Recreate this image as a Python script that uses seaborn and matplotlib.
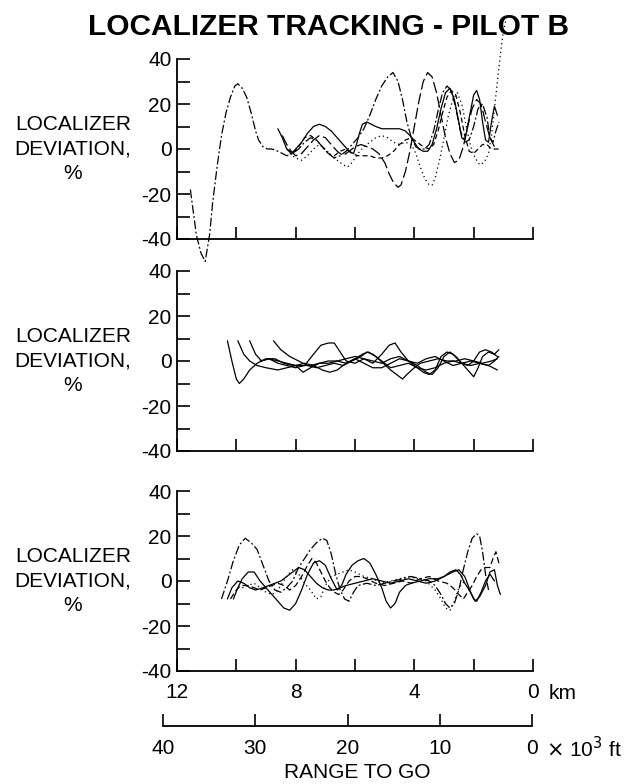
import numpy as np
import pandas as pd
import seaborn as sns
import matplotlib
matplotlib.use("Agg")
import matplotlib.pyplot as plt
from matplotlib.ticker import MultipleLocator

# Values: range to go (km) vs localizer deviation (%)

# ---- top panel
top_a_km = [11.55, 11.45, 11.35, 11.2, 11.05, 10.9, 10.8, 10.65, 10.5, 10.35, 10.2, 10.05, 9.95, 9.8,
            9.65, 9.5, 9.35, 9.25, 9.1, 8.95, 8.8, 8.6, 8.45, 8.3, 8.1, 7.9, 7.7, 7.5, 7.3, 7.1, 6.9,
            6.7, 6.5, 6.3, 6.1, 5.9, 5.7, 5.5, 5.3, 5.1, 4.9, 4.72, 4.55, 4.4, 4.25, 4.1, 3.95, 3.8,
            3.65, 3.5, 3.35, 3.2, 3.05, 2.9, 2.75, 2.6, 2.45, 2.3, 2.15, 2.0, 1.85, 1.7, 1.55, 1.45,
            1.35, 1.25, 1.15]
top_a_dev = [-18, -28, -38, -46, -50, -38, -24, -8, 6, 16, 23, 28, 29, 27,
             23, 16, 8, 4, 1, 0, 0, -1, -2, -3, -2, 0, 3, 5, 4, 1, -2,
             -4, -3, -1, 2, 5, 9, 15, 22, 28, 32, 34, 30, 22, 12, 5, 1, 0,
             0, 2, 8, 17, 25, 28, 26, 18, 8, 3, 4, 10, 18, 20, 14, 5,
             3, 8, 12]

top_b_km = [8.45, 8.3, 8.15, 8.0, 7.8, 7.6, 7.4, 7.2, 7.0, 6.8, 6.6, 6.4, 6.2, 6.0, 5.8, 5.6, 5.4,
            5.2, 5.0, 4.85, 4.7, 4.55, 4.45, 4.3, 4.15, 4.0, 3.85, 3.7, 3.55, 3.4, 3.25, 3.1, 2.95,
            2.8, 2.65, 2.5, 2.35, 2.2, 2.05, 1.9, 1.75, 1.6, 1.45, 1.3]
top_b_dev = [6, 2, -1, -3, -2, 1, 4, 6, 5, 2, -1, -3, -1, 1, 2, 1, 0,
             -2, -6, -11, -15, -17, -16, -10, -1, 10, 21, 30, 34, 32, 25, 15, 5,
             -2, -6, -5, 1, 10, 18, 22, 20, 12, 5, 1]

top_c_km = [8.2, 8.0, 7.8, 7.6, 7.4, 7.2, 7.0, 6.8, 6.6, 6.4, 6.25, 6.1, 5.9, 5.7, 5.5, 5.3, 5.1,
            4.9, 4.7, 4.5, 4.3, 4.1, 3.95, 3.8, 3.65, 3.5, 3.4, 3.3, 3.15, 3.0, 2.85, 2.7, 2.55,
            2.4, 2.25, 2.1, 1.95, 1.8, 1.65, 1.5, 1.4, 1.3, 1.2, 1.1, 1.0, 0.92]
top_c_dev = [-2, -4, -5, -3, 0, 2, 0, -3, -5, -7, -8, -6, -2, 1, 3, 5, 6,
             5, 3, 2, 3, 2, -2, -8, -13, -16, -16, -13, -5, 5, 15, 22, 25,
             20, 10, 1, -4, -7, -6, -2, 6, 18, 30, 42, 52, 57]

top_d_km = [8.6, 8.45, 8.3, 8.15, 8.0, 7.8, 7.6, 7.4, 7.2, 7.0, 6.8, 6.6, 6.4, 6.2, 6.05, 5.95,
            5.85, 5.75, 5.6, 5.45, 5.3, 5.1, 4.9, 4.7, 4.5, 4.3, 4.15, 4.0, 3.85, 3.7, 3.55, 3.4,
            3.25, 3.1, 2.95, 2.8, 2.65, 2.5, 2.4, 2.3, 2.15, 2.0, 1.9, 1.8, 1.7, 1.6, 1.5, 1.4,
            1.3, 1.2]
top_d_dev = [9, 5, 0, -2, 0, 3, 7, 10, 11, 10, 8, 5, 2, -1, -2, 2,
             7, 11, 12, 11, 10, 9, 9, 9, 9, 8, 6, 3, 0, -1, -1, 2,
             9, 18, 25, 27, 22, 12, 5, 4, 14, 24, 26, 22, 12, 4, 3, 12,
             19, 15]

top_e_km = [8.3, 8.1, 7.9, 7.7, 7.5, 7.3, 7.1, 6.9, 6.7, 6.5, 6.3, 6.1, 5.9, 5.7, 5.5, 5.3, 5.1,
            4.9, 4.7, 4.5, 4.3, 4.1, 3.9, 3.7, 3.5, 3.35, 3.2, 3.05, 2.9, 2.75, 2.6, 2.45, 2.3,
            2.15, 2.0, 1.85, 1.7, 1.55, 1.4, 1.25, 1.15]
top_e_dev = [0, -2, 1, 5, 6, 4, 1, -2, -3, -1, 0, -2, -3, -3, -3, -4, -4,
             -3, -1, 2, 4, 5, 3, 1, 0, 2, 8, 16, 23, 26, 24, 16, 6,
             -1, -2, 0, 2, 2, 0, 0, 0]

# ---- middle panel
mid_a_km = [10.3, 10.15, 10.0, 9.9, 9.75, 9.55, 9.3, 9.0, 8.7, 8.4, 8.1, 7.8, 7.5, 7.2, 6.9, 6.6,
            6.3, 6.0, 5.7, 5.4, 5.1, 4.8, 4.5, 4.2, 3.9, 3.6, 3.3, 3.0, 2.7, 2.4, 2.1, 1.8, 1.5, 1.2]
mid_a_dev = [9, 0, -8, -10, -8, -4, -1, 1, 1, -1, -2, -2, -2, -1, -1, 0,
             1, 2, 1, 0, -1, 1, 2, 0, -3, -4, -3, -1, 0, -1, -2, -1, -2, -4]

mid_b_km = [9.95, 9.75, 9.55, 9.3, 9.0, 8.6, 8.3, 8.0, 7.7, 7.4, 7.1, 6.85, 6.6, 6.3, 6.0, 5.75,
            5.55, 5.3, 5.05, 4.8, 4.6, 4.4, 4.25, 4.0, 3.8, 3.5, 3.2, 2.9, 2.6, 2.3, 2.0, 1.7, 1.4, 1.2]
mid_b_dev = [9, 3, 0, -2, -3, -4, -3, -2, -1, -2, -4, -5, -4, -1, 1, 3,
             4, 2, -1, -4, -6, -8, -6, -3, -1, 0, 1, 0, 0, 1, 0, -1, 0, 1]

mid_c_km = [9.55, 9.35, 9.15, 8.9, 8.6, 8.3, 8.0, 7.7, 7.4, 7.15, 6.9, 6.7, 6.5, 6.3, 6.0, 5.7,
            5.4, 5.1, 4.85, 4.65, 4.45, 4.2, 3.9, 3.6, 3.4, 3.2, 3.0, 2.8, 2.6, 2.4, 2.2, 2.0,
            1.85, 1.7, 1.5, 1.3, 1.15]
mid_c_dev = [9, 3, 0, 1, -1, -2, -3, -2, 3, 7, 8, 8, 4, 0, -1, 1,
             -1, 3, 7, 8, 4, 0, -2, -5, -6, -3, 2, 4, 2, -1, -4, -7,
             -3, 2, 4, 3, 5]

mid_d_km = [8.75, 8.5, 8.2, 7.9, 7.6, 7.3, 7.0, 6.7, 6.4, 6.1, 5.8, 5.6, 5.4, 5.1, 4.8, 4.5,
            4.2, 3.9, 3.7, 3.5, 3.3, 3.1, 2.9, 2.7, 2.4, 2.2, 2.0, 1.8, 1.6, 1.4, 1.2]
mid_d_dev = [9, 5, 2, 0, -2, -3, -2, -1, -2, 0, 2, 4, 3, 0, -3, -2,
             -1, -3, -5, -6, -4, 2, 4, 3, -1, -2, 0, 4, 5, 4, 2]

mid_e_km = [9.2, 8.9, 8.6, 8.3, 8.0, 7.75, 7.5, 7.2, 6.9, 6.6, 6.3, 6.0, 5.7, 5.4, 5.1, 4.8,
            4.5, 4.2, 3.9, 3.6, 3.3, 3.0, 2.7, 2.4, 2.1, 1.8, 1.5, 1.3, 1.15]
mid_e_dev = [0, 1, 0, -1, -2, -5, -3, -1, 0, 0, -1, 1, -1, -3, -3, -1,
             1, 0, -1, 1, 2, 0, -2, -1, 0, -1, -2, 0, 2]

# ---- bottom panel
bot_a_km = [10.5, 10.3, 10.1, 9.9, 9.7, 9.5, 9.3, 9.1, 8.9, 8.7, 8.5, 8.3, 8.1, 7.9, 7.7, 7.5,
            7.3, 7.1, 6.95, 6.8, 6.65, 6.5, 6.35, 6.2, 6.05, 5.9, 5.6, 5.3, 5.0, 4.7, 4.4, 4.1,
            3.8, 3.5, 3.3, 3.1, 2.95, 2.8, 2.65, 2.5, 2.35, 2.2, 2.05, 1.9, 1.8, 1.7, 1.6, 1.5]
bot_a_dev = [-8, 0, 9, 16, 19, 17, 14, 7, 0, -4, -5, -3, 0, 6, 10, 14,
             17, 19, 18, 12, 3, -4, -8, -9, -5, -2, -1, -2, -1, 0, 1, 2,
             1, 0, -2, -6, -10, -12, -10, -4, 5, 13, 19, 21, 20, 13, 3, -4]

bot_b_km = [10.3, 10.15, 9.95, 9.75, 9.55, 9.35, 9.1, 8.9, 8.7, 8.5, 8.3, 8.1, 7.9, 7.7, 7.5, 7.3,
            7.1, 6.9, 6.7, 6.5, 6.3, 6.0, 5.7, 5.4, 5.1, 4.8, 4.5, 4.2, 3.9, 3.6, 3.3, 3.0, 2.7,
            2.5, 2.3, 2.1, 1.95, 1.8, 1.6, 1.45, 1.3, 1.2, 1.1]
bot_b_dev = [-8, -3, 0, -1, -3, -4, -3, -2, -1, 0, 2, 4, 6, 5, 2, -1,
             -3, -4, -4, -3, -2, -1, 0, 1, 0, -1, 0, 1, 0, -1, 0, 2, 4,
             5, 2, -5, -9, -7, -2, 4, 5, -2, -6]

bot_c_km = [10.1, 9.95, 9.8, 9.6, 9.4, 9.2, 9.0, 8.8, 8.6, 8.4, 8.2, 8.0, 7.8, 7.6, 7.4, 7.2,
            7.0, 6.8, 6.6, 6.45, 6.3, 6.1, 5.9, 5.7, 5.5, 5.3, 5.1, 4.95, 4.8, 4.65, 4.5, 4.3,
            4.1, 3.8, 3.5, 3.2, 3.0, 2.8, 2.6, 2.45, 2.3, 2.15, 2.0, 1.9, 1.75, 1.6, 1.45, 1.3]
bot_c_dev = [-8, -3, 1, 4, 4, 0, -3, -6, -9, -12, -13, -10, -4, 3, 8, 9,
             7, 1, -4, -2, 3, 7, 9, 10, 8, 3, -3, -9, -12, -10, -5, -2,
             -1, 0, 1, 1, 2, 4, 5, 3, -1, -4, -8, -9, -5, 0, 3, 0]

bot_d_km = [10.2, 10.0, 9.85, 9.6, 9.4, 9.2, 9.0, 8.8, 8.6, 8.4, 8.2, 8.0, 7.8, 7.6, 7.45, 7.3,
            7.15, 7.0, 6.85, 6.7, 6.55, 6.4, 6.2, 6.0, 5.8, 5.6, 5.3, 5.0, 4.7, 4.4, 4.1, 3.8,
            3.5, 3.2, 2.9, 2.7, 2.5, 2.35, 2.2, 2.05, 1.9, 1.75, 1.6, 1.45, 1.35, 1.25, 1.15]
bot_d_dev = [-8, -4, -2, -2, -3, -4, -3, -2, -1, -2, -4, -2, 2, 7, 10, 8,
             4, 0, -3, -5, -6, -4, 0, 2, 2, 1, -1, -2, -1, 0, -1, 1,
             2, 0, -1, -3, -6, -8, -5, -2, 2, 5, 6, 6, 10, 13, 8]

bot_e_km = [9.8, 9.6, 9.4, 9.2, 9.0, 8.8, 8.6, 8.4, 8.25, 8.1, 7.9, 7.7, 7.5, 7.3, 7.15, 7.0,
            6.8, 6.6, 6.4, 6.2, 6.0, 5.7, 5.4, 5.1, 4.8, 4.5, 4.2, 3.9, 3.6, 3.3, 3.1, 2.95,
            2.8, 2.65, 2.5, 2.3]
bot_e_dev = [-3, -2, -1, -3, -5, -6, -4, 0, 3, 5, 3, -1, -4, -8, -7, -2,
             2, 3, 4, 5, 4, 2, 1, -1, 0, 1, 2, 1, 0, -4, -8, -12,
             -13, -9, -3, 0]

top_runs = {"a": (top_a_km, top_a_dev), "b": (top_b_km, top_b_dev), "c": (top_c_km, top_c_dev),
            "d": (top_d_km, top_d_dev), "e": (top_e_km, top_e_dev)}
mid_runs = {"a": (mid_a_km, mid_a_dev), "b": (mid_b_km, mid_b_dev), "c": (mid_c_km, mid_c_dev),
            "d": (mid_d_km, mid_d_dev), "e": (mid_e_km, mid_e_dev)}
bot_runs = {"a": (bot_a_km, bot_a_dev), "b": (bot_b_km, bot_b_dev), "c": (bot_c_km, bot_c_dev),
            "d": (bot_d_km, bot_d_dev), "e": (bot_e_km, bot_e_dev)}

km_ticks = [12, 10, 8, 6, 4, 2, 0]
km_labels = ["12", "", "8", "", "4", "", "0"]
ft_ticks = [40, 30, 20, 10, 0]
ft_labels = ["40", "30", "20", "10", "0"]
dev_ticks = [-40, -20, 0, 20, 40]

title = "LOCALIZER TRACKING - PILOT B"
ylab = "LOCALIZER\nDEVIATION,\n%"


def frame(runs):
    parts = [pd.DataFrame({"km": km, "dev": dev, "run": name}) for name, (km, dev) in runs.items()]
    return pd.concat(parts, ignore_index=True)


sns.set_style("ticks")
plt.rcParams["font.family"] = ["Liberation Sans", "DejaVu Sans"]
plt.rcParams["axes.unicode_minus"] = False
for k in ["text.color", "axes.labelcolor", "xtick.color", "ytick.color", "axes.edgecolor"]:
    plt.rcParams[k] = "black"
fs = 15

fig = plt.figure(figsize=(6.29, 7.84), dpi=100)
W, H = 629, 784
left, right = 177, 533
panel_px = [(59, 239), (271, 451), (491, 671)]  # top / bottom pixel rows of each panel

dash_sets = {
    "top": [(7, 2, 1.5, 2), (9, 3), (1, 2.5), "", (4, 2.5)],
    "mid": ["", "", "", "", ""],
    "bot": [(7, 2, 1.5, 2), "", "", (5, 2.5), (1, 2.5)],
}

axes = []
for (ytop, ybot), runs, key in zip(panel_px, [top_runs, mid_runs, bot_runs], ["top", "mid", "bot"]):
    ax = fig.add_axes([left / W, 1 - ybot / H, (right - left) / W, (ybot - ytop) / H])
    sns.lineplot(data=frame(runs), x="km", y="dev", style="run", dashes=dash_sets[key],
                 color="black", lw=0.9, sort=False, estimator=None, legend=False, ax=ax)
    ax.set_xlim(12, 0)
    ax.set_ylim(-40, 40)
    ax.set_xticks(km_ticks)
    ax.set_yticks(dev_ticks)
    ax.yaxis.set_minor_locator(MultipleLocator(10))
    ax.tick_params(axis="both", which="both", direction="in", length=9, width=1.2,
                   labelsize=fs, pad=4)
    ax.tick_params(axis="x", pad=9)
    ax.set_xlabel("")
    ax.set_ylabel("")
    sns.despine(ax=ax)
    for s in ["left", "bottom"]:
        ax.spines[s].set_linewidth(1.3)
    ax.set_facecolor("none")
    ax.text(-0.292, 0, ylab, transform=ax.get_yaxis_transform(), ha="center", va="center",
            multialignment="center", fontsize=fs, linespacing=1.38)
    if key == "bot":
        ax.set_xticklabels(km_labels)
    else:
        ax.set_xticklabels([""] * len(km_ticks))
    if key == "top":
        for ln in ax.lines:
            ln.set_clip_on(False)
    axes.append(ax)

ax3 = axes[-1]
ax3.annotate("km", xy=(0, 0), xycoords=ax3.get_xaxis_transform(), xytext=(11, -16.5),
             textcoords="offset points", ha="left", va="center", fontsize=fs)

# second range scale in thousands of feet
ft_left, ft_right, ft_y = 163, 532, 726
axf = fig.add_axes([ft_left / W, 1 - ft_y / H, (ft_right - ft_left) / W, 0.001])
axf.set_xlim(40, 0)
axf.set_xticks(ft_ticks)
axf.set_xticklabels(ft_labels)
axf.set_yticks([])
axf.tick_params(axis="x", direction="in", length=9, width=1.2, labelsize=fs, pad=9)
for s in ["left", "right", "top"]:
    axf.spines[s].set_visible(False)
axf.spines["bottom"].set_linewidth(1.3)
axf.set_facecolor("none")
axf.annotate(r"$\times$ 10$^3$ ft", xy=(0, 0), xycoords=axf.get_xaxis_transform(),
             xytext=(10, -16.5), textcoords="offset points", ha="left", va="center", fontsize=fs)

fig.text(357 / W, 1 - 772 / H, "RANGE TO GO", ha="center", va="center", fontsize=fs)
fig.text(328 / W, 1 - 27 / H, title, ha="center", va="center", fontsize=21.5, fontweight="bold")

fig.savefig("out.png", dpi=100)
